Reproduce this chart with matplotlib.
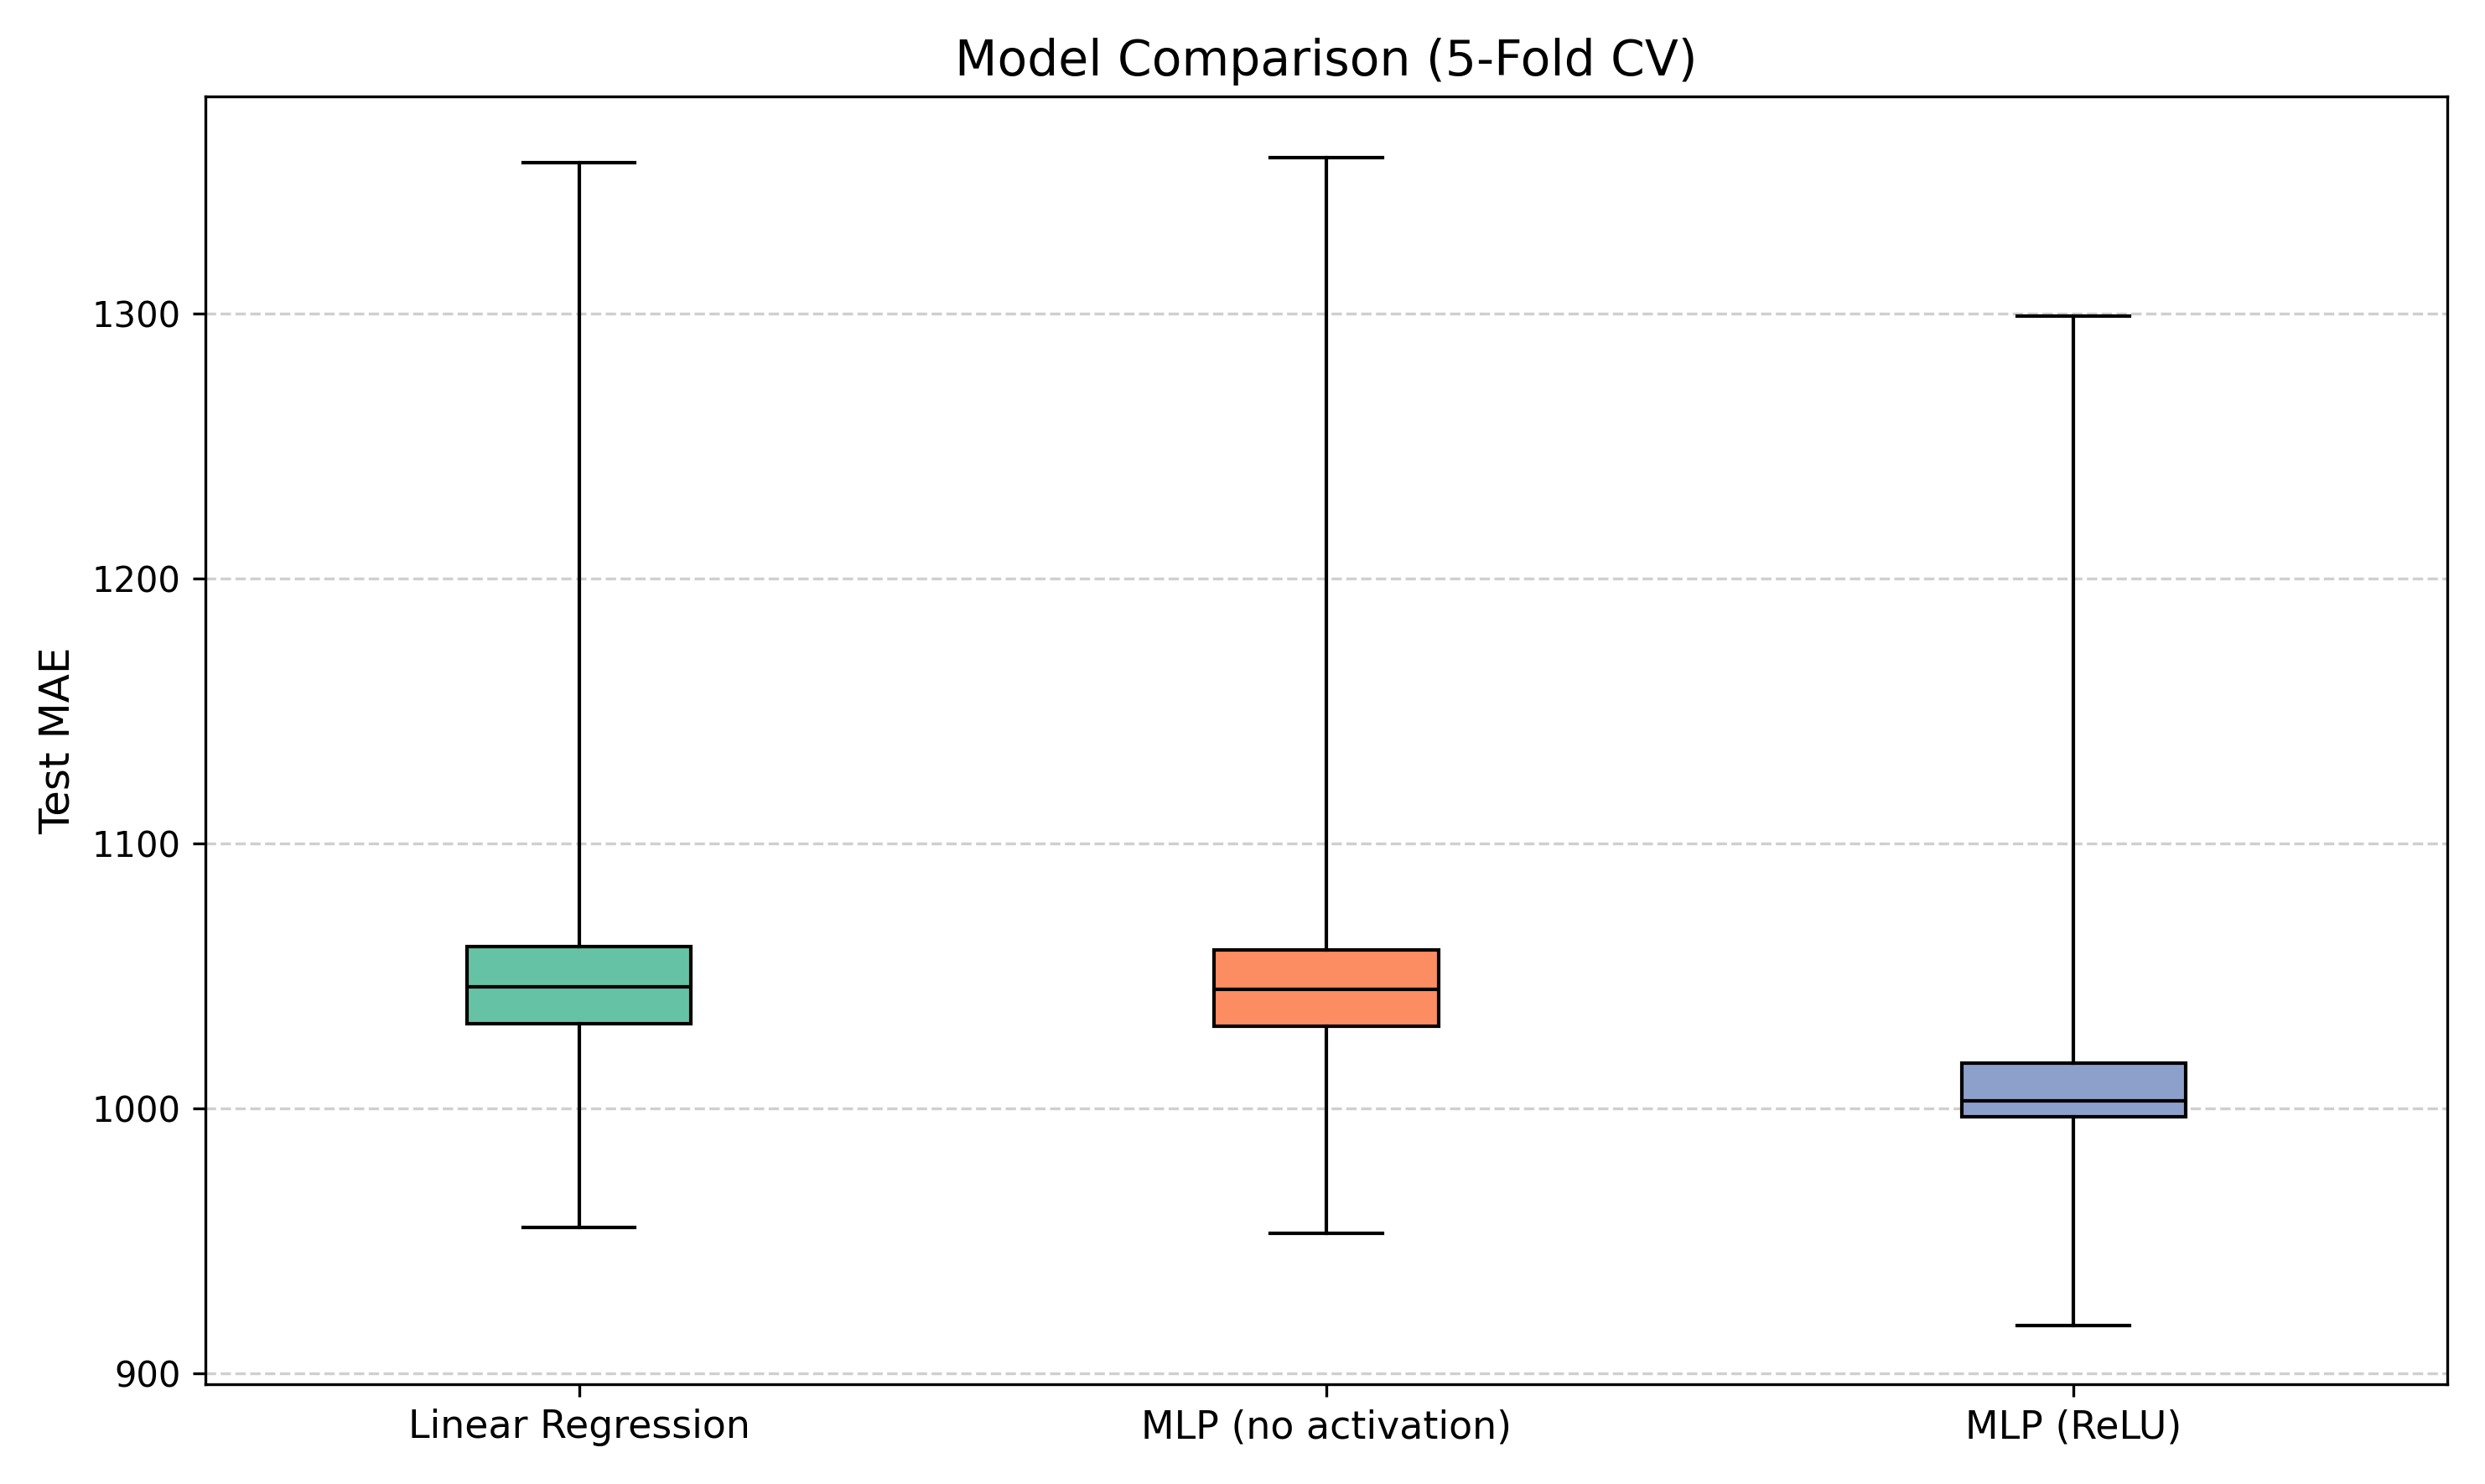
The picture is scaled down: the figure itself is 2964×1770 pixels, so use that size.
import numpy as np
import matplotlib.pyplot as plt

# model names and 5-fold test MAE values
models = ['Linear Regression', 'MLP (no activation)', 'MLP (ReLU)']
mae_linear = [955, 1032, 1046, 1061, 1357]
mae_mlp_noact = [953, 1031, 1045, 1060, 1359]
mae_mlp_relu = [918, 997, 1003, 1017, 1299]
colors = ['#66c2a5', '#fc8d62', '#8da0cb']

fig, ax = plt.subplots(figsize=(9.88, 5.9), dpi=300)

bp = ax.boxplot([mae_linear, mae_mlp_noact, mae_mlp_relu], whis=(0, 100),
                widths=0.3, patch_artist=True, tick_labels=models)
for patch, c in zip(bp['boxes'], colors):
    patch.set_facecolor(c)
    patch.set_edgecolor('black')
for med in bp['medians']:
    med.set_color('black')

ax.set_title('Model Comparison (5-Fold CV)', fontsize=14)
ax.set_ylabel('Test MAE', fontsize=12)
ax.tick_params(axis='x', labelsize=11)
ax.set_ylim(896, 1382)
ax.set_yticks([900, 1000, 1100, 1200, 1300])
ax.yaxis.grid(True, linestyle='--', alpha=0.6)
ax.set_axisbelow(True)

plt.tight_layout()
plt.savefig('out.png')
